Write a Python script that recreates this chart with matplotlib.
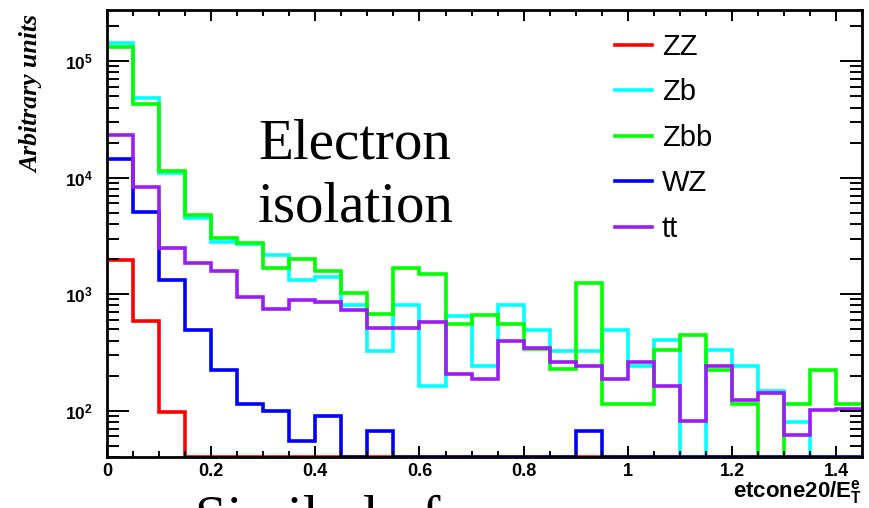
import numpy as np
import matplotlib
matplotlib.use("Agg")
import matplotlib.pyplot as plt
from matplotlib.ticker import MultipleLocator, LogLocator, FuncFormatter, NullFormatter

plt.rcParams["font.family"] = "Liberation Sans"
plt.rcParams["mathtext.fontset"] = "custom"
plt.rcParams["mathtext.bf"] = "Liberation Sans:bold"
plt.rcParams["mathtext.rm"] = "Liberation Sans:bold"
plt.rcParams["mathtext.default"] = "bf"

# 29 bins of width 0.05 in etcone20/ET
edges = np.linspace(0, 1.45, 30)

zz = [1970, 591, 97, 0, 0, 0, 0, 0, 0, 0, 0, 0, 0, 0, 0, 0, 0, 0, 0, 0,
      0, 0, 0, 0, 0, 0, 0, 0, 0]
zb = [144500, 48500, 10900, 4520, 2830, 2700, 2150, 1330, 1390, 811, 327,
      811, 164, 653, 244, 811, 489, 327, 327, 489, 240, 401, 0, 329, 240,
      146, 80, 0, 0]
zbb = [131000, 42600, 11500, 4820, 3030, 2740, 1690, 2010, 1590, 1020, 675,
       1670, 1490, 557, 666, 557, 339, 228, 1245, 113, 113, 334, 449, 222,
       113, 0, 113, 222, 113]
wz = [14400, 5080, 1330, 489, 225, 113, 100, 55, 90, 0, 67, 0, 0, 0, 0, 0,
      0, 0, 67, 0, 0, 0, 0, 0, 0, 0, 0, 0, 0]
tt = [23300, 8380, 2510, 1846, 1587, 944, 745, 895, 849, 735, 515, 515, 572,
      207, 187, 393, 345, 264, 243, 187, 260, 163, 81, 240, 123, 142, 62,
      102, 104]

labels = ["ZZ", "Zb", "Zbb", "WZ", "tt"]
colors = ["#ff0000", "#00ffff", "#00ff00", "#0000ff", "#9b1cf5"]
ymin, ymax = 40, 2.74e5

fig = plt.figure(figsize=(8.7, 5.08), dpi=100)
ax = fig.add_axes([0.123, 0.1004, 0.868, 0.8796])

for vals, lab, col in zip([zz, zb, zbb, wz, tt], labels, colors):
    # empty bins sit on the lower frame edge
    v = np.maximum(np.asarray(vals, dtype=float), ymin)
    ax.stairs(v, edges, baseline=None, color=col, lw=2.6, label=lab)

ax.set_yscale("log")
ax.set_xlim(0, 1.45)
ax.set_ylim(ymin, ymax)

ax.xaxis.set_major_locator(MultipleLocator(0.2))
ax.xaxis.set_minor_locator(MultipleLocator(0.05))
ax.xaxis.set_major_formatter(FuncFormatter(lambda x, p: "%g" % round(x, 2)))
ax.yaxis.set_major_locator(LogLocator(base=10, numticks=10))
ax.yaxis.set_minor_locator(LogLocator(base=10, subs=np.arange(2, 10), numticks=20))
ax.yaxis.set_major_formatter(FuncFormatter(lambda y, p: r"$10^{%d}$" % round(np.log10(y))))
ax.yaxis.set_minor_formatter(NullFormatter())

ax.tick_params(axis="x", which="major", direction="in", top=True, length=8,
               width=1.4, labelsize=13, pad=4)
ax.tick_params(axis="x", which="minor", direction="in", top=True, length=4.5, width=1.4)
ax.tick_params(axis="y", which="major", direction="in", right=True, length=16,
               width=1.4, labelsize=12.5, pad=10)
ax.tick_params(axis="y", which="minor", direction="in", right=True, length=8.5, width=1.4)
for lab in ax.get_xticklabels() + ax.get_yticklabels():
    lab.set_fontweight("bold")
for s in ax.spines.values():
    s.set_linewidth(2)

ax.legend(loc="upper left", bbox_to_anchor=(0.673, 0.949), frameon=False,
          fontsize=21, handlelength=1.25, handletextpad=0.35, labelspacing=0.6,
          borderpad=0, borderaxespad=0)

ax.text(0.2, 0.667, "Electron", transform=ax.transAxes,
        family="Liberation Serif", fontsize=41, va="baseline")
ax.text(0.2, 0.526, "isolation", transform=ax.transAxes,
        family="Liberation Serif", fontsize=41, va="baseline")

fig.text(0.037, 0.97, "Arbitrary units", rotation=90, ha="center", va="top",
         family="Liberation Serif", fontweight="bold", fontstyle="italic", fontsize=18.5)
fig.text(0.991, 0.004, r"etcone20/$E^{e}_{T}$", ha="right", va="bottom",
         fontweight="bold", fontsize=16)
fig.text(0.224, -0.053, "Similarly for", ha="left", va="baseline",
         family="Liberation Serif", fontsize=41)

fig.savefig("out.png", dpi=100)
